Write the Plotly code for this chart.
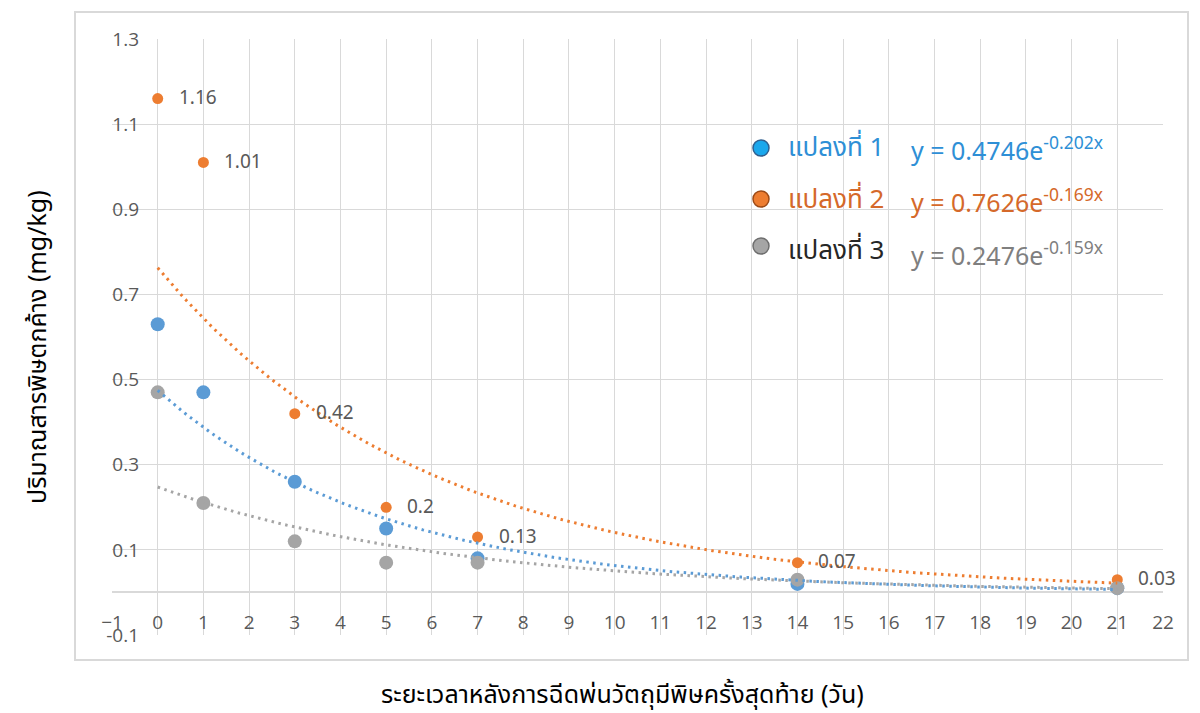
import numpy as np
import plotly.graph_objects as go

# ---- data ----
days = [0, 1, 3, 5, 7, 14, 21]
plot1 = [0.63, 0.47, 0.26, 0.15, 0.08, 0.02, 0.01]
plot2 = [1.16, 1.01, 0.42, 0.20, 0.13, 0.07, 0.03]
plot3 = [0.47, 0.21, 0.12, 0.07, 0.07, 0.03, 0.01]
series_names = ["แปลงที่ 1", "แปลงที่ 2", "แปลงที่ 3"]
trend_a = [0.4746, 0.7626, 0.2476]
trend_b = [-0.202, -0.169, -0.159]
trend_text = ["y = 0.4746e<sup>-0.202x</sup>", "y = 0.7626e<sup>-0.169x</sup>", "y = 0.2476e<sup>-0.159x</sup>"]
x_ticks = list(range(-1, 23))
y_ticks = [-0.1, 0.1, 0.3, 0.5, 0.7, 0.9, 1.1, 1.3]
y_ticktext = ["-0.1", "0.1", "0.3", "0.5", "0.7", "0.9", "1.1", "1.3"]
x_title = "ระยะเวลาหลังการฉีดพ่นวัตถุมีพิษครั้งสุดท้าย (วัน)"
y_title = "ปริมาณสารพิษตกค้าง (mg/kg)"

colors = ["#5b9bd5", "#ed7d31", "#a5a5a5"]
legend_fill = ["#1aa7ec", "#ed7d31", "#a5a5a5"]
legend_line = ["#2f5f8f", "#9c4a17", "#6e6e6e"]
legend_text_col = ["#2e8fd6", "#d5692a", "#262626"]
eq_col = ["#2e8fd6", "#d5692a", "#7f7f7f"]
marker_sizes = [14, 11, 14]

FONT = "Noto Sans Thai, Tahoma, Leelawadee UI, Open Sans, sans-serif"

# page body has an 8px margin; work in reference pixel coords and compensate
OFF = 8
W, H = 1200 - OFF, 713 - OFF
PL, PR, PT, PB = 112, 1163, 39, 635   # plot area in reference pixels

def px_x(p):
    return (p - PL) / (PR - PL)

def px_y(p):
    return (PB - p) / (PB - PT)

fig = go.Figure()
for vals, c, s in zip([plot1, plot2, plot3], colors, marker_sizes):
    fig.add_trace(go.Scatter(x=days, y=vals, mode="markers",
                             marker=dict(color=c, size=s, line=dict(width=0)),
                             showlegend=False, hoverinfo="x+y"))

xt = np.linspace(0, 21, 200)
for a, b, c in zip(trend_a, trend_b, colors):
    fig.add_trace(go.Scatter(x=xt, y=a * np.exp(b * xt), mode="lines",
                             line=dict(color=c, width=3, dash="2.5px,4.5px"),
                             showlegend=False, hoverinfo="skip"))

annotations = []
for x, v in zip(days, plot2):
    annotations.append(dict(x=x, y=v, xref="x", yref="y", text=f"{v:g}",
                            showarrow=False, xanchor="left", yanchor="middle",
                            xshift=19, font=dict(size=19, color="#595959", family=FONT)))

# custom legend
rows_y = [148, 199, 246]
text_y = [148, 200, 251]
eq_y = [150, 202, 255]
shapes = []
for i in range(3):
    shapes.append(dict(type="circle", xref="paper", yref="paper",
                       xsizemode="pixel", ysizemode="pixel",
                       xanchor=px_x(761), yanchor=px_y(rows_y[i]),
                       x0=-8, x1=8, y0=-8, y1=8,
                       fillcolor=legend_fill[i], line=dict(color=legend_line[i], width=1.5)))
    annotations.append(dict(x=px_x(786), y=px_y(text_y[i]), xref="paper", yref="paper",
                            text=series_names[i], showarrow=False, xanchor="left", yanchor="middle",
                            font=dict(size=26, color=legend_text_col[i], family=FONT)))
    annotations.append(dict(x=px_x(909), y=px_y(eq_y[i]), xref="paper", yref="paper",
                            text=trend_text[i], showarrow=False, xanchor="left", yanchor="middle",
                            font=dict(size=25, color=eq_col[i], family=FONT)))

# outer border
shapes.append(dict(type="rect", xref="paper", yref="paper",
                   x0=px_x(75), x1=px_x(1188), y0=px_y(660), y1=px_y(12),
                   line=dict(color="#d9d9d9", width=2), fillcolor="rgba(0,0,0,0)", layer="below"))

# axis titles
annotations.append(dict(x=px_x(622), y=px_y(695), xref="paper", yref="paper", text=x_title,
                        showarrow=False, xanchor="center", yanchor="middle",
                        font=dict(size=25, color="#000000", family=FONT)))
annotations.append(dict(x=px_x(38), y=px_y(347), xref="paper", yref="paper", text=y_title,
                        showarrow=False, xanchor="center", yanchor="middle", textangle=-90,
                        font=dict(size=25, color="#000000", family=FONT)))

fig.update_layout(
    width=W, height=H,
    margin=dict(l=PL - OFF, r=1200 - PR, t=PT - OFF, b=713 - PB),
    paper_bgcolor="white", plot_bgcolor="white",
    showlegend=False,
    xaxis=dict(range=[-1, 22], tickvals=x_ticks, showgrid=True, gridcolor="#d9d9d9", gridwidth=1,
               zeroline=False, showline=False, ticks="",
               anchor="free", position=px_y(609),
               tickfont=dict(size=19, color="#595959", family="Open Sans, sans-serif")),
    yaxis=dict(range=[-0.1, 1.3], tickvals=y_ticks, ticktext=y_ticktext, showgrid=True,
               gridcolor="#d9d9d9", gridwidth=1, zeroline=True, zerolinecolor="#d9d9d9",
               zerolinewidth=1.5, showline=False, ticks="",
               anchor="free", position=px_x(139),
               tickfont=dict(size=19, color="#595959", family="Open Sans, sans-serif")),
    shapes=shapes, annotations=annotations,
    font=dict(family=FONT),
)

fig.write_html("out.html")
